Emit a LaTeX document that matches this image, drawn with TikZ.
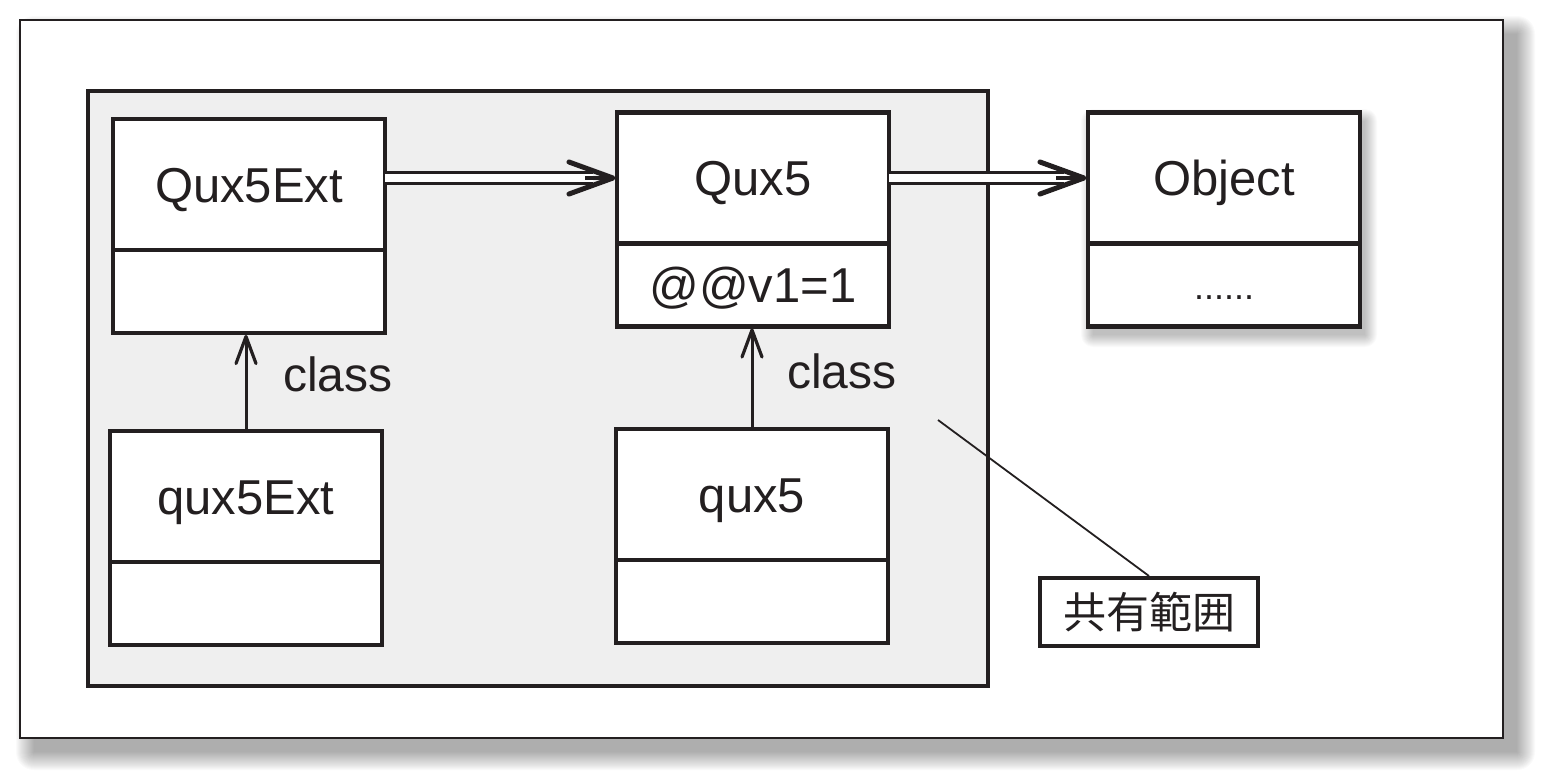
\documentclass[tikz,border=0pt]{standalone}
\usepackage{fontspec}
\setmainfont{Liberation Sans}
\newfontfamily\cjk{Noto Sans CJK JP}
\usetikzlibrary{calc}
\definecolor{ink}{HTML}{231F20}
\definecolor{panel}{HTML}{EFEFEF}
\begin{document}
\begin{tikzpicture}[x=1pt,y=-1pt,
  cls/.style={draw=ink, line width=4.3pt, fill=white, minimum width=272pt, inner sep=0pt, outer sep=0pt,
    font=\fontsize{49}{58}\selectfont, text=ink, text height=35pt, text depth=0pt},
  topbox/.style={cls, minimum height=131pt},
  botbox/.style={cls, minimum height=83pt, anchor=north},
  dbl/.style={draw=ink, line width=3.3pt, double=white, double distance=7.5pt, shorten >=24pt},
  bigstem/.style={draw=ink, line width=4pt},
  bighead/.style={draw=ink, line width=5pt, line cap=round, line join=round},
  inst/.style={draw=ink, line width=3pt},
  insthead/.style={draw=ink, line width=3.2pt, line cap=round, line join=round},
  lbl/.style={font=\fontsize{48}{58}\selectfont, inner sep=0pt, anchor=base west, text=ink}
]
\useasboundingbox (0,0) rectangle (1552,780);
% outer frame shadow
\foreach \i in {0,...,18}
  \fill[black, opacity=0.02, rounded corners=\i pt] ({20+14-\i},{20+14-\i}) rectangle ({1503+14+\i},{738+14+\i});
\draw[ink, line width=2.5pt, fill=white] (20,20) rectangle (1503,738);
% shared area
\draw[ink, line width=4pt, fill=panel] (88,91) rectangle (988,686);
% Object shadow
\foreach \i in {0,...,12}
  \fill[black, opacity=0.018, rounded corners=\i pt] ({1088+5-\i},{113+8-\i}) rectangle ({1360+5+\i},{327+8+\i});

% class boxes
\node[topbox] (QEt) at (249,184.5) {Qux5Ext};
\node[botbox] (QEb) at (QEt.south) {};
\node[topbox] (qEt) at (246,496.5) {qux5Ext};
\node[botbox] (qEb) at (qEt.south) {};
\node[topbox] (Q5t) at (753,178) {Qux5};
\node[botbox] (Q5b) at (Q5t.south) {@@v1=1};
\node[topbox] (q5t) at (752,494.5) {qux5};
\node[botbox] (q5b) at (q5t.south) {};
\node[topbox] (Obt) at (1224,178) {Object};
\node[botbox, font=\fontsize{36}{40}\selectfont, text height=28pt] (Obb) at (Obt.south) {......};

% superclass arrows
\coordinate (a1s) at (Q5t.west -| QEt.east);
\coordinate (t1) at ($(Q5t.west)+(-4,0)$);
\coordinate (a1h) at ($(t1)+(-28,0)$);
\draw[dbl] (a1s) -- (Q5t.west);
\draw[bigstem] (a1h) -- (t1);
\draw[bighead] ($(t1)+(-44,-16)$) -- (t1) -- ($(t1)+(-44,16)$);

\coordinate (t2) at ($(Obt.west)+(-4,0)$);
\coordinate (a2h) at ($(t2)+(-28,0)$);
\draw[dbl] (Q5t.east) -- (Obt.west);
\draw[bigstem] (a2h) -- (t2);
\draw[bighead] ($(t2)+(-44,-16)$) -- (t2) -- ($(t2)+(-44,16)$);

% class arrows
\coordinate (t3) at ($(qEt.north |- QEb.south)+(0,3.5)$);
\draw[inst] (qEt.north) -- (t3);
\draw[insthead] ($(t3)+(-10,27)$) -- (t3) -- ($(t3)+(10,27)$);
\coordinate (t4) at ($(q5t.north |- Q5b.south)+(0,3.5)$);
\draw[inst] (q5t.north) -- (t4);
\draw[insthead] ($(t4)+(-10,27)$) -- (t4) -- ($(t4)+(10,27)$);
\node[lbl] (c1) at (283,391) {class};
\node[lbl] (c2) at (787,388) {class};

% label
\node[draw=ink, line width=4pt, fill=white, minimum width=218pt, minimum height=68pt, inner sep=0pt,
  font=\cjk\fontsize{43}{50}\selectfont, text=ink] (share) at (1149,612) {共有範囲};
\coordinate (lead) at (938,420);
\draw[ink, line width=1.8pt] (lead) -- (share.north);
\end{tikzpicture}
\end{document}
